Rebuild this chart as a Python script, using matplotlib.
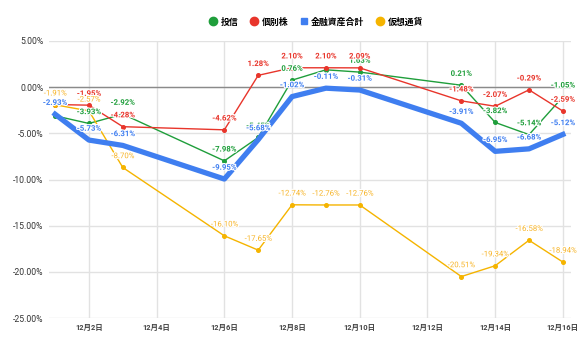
import matplotlib.pyplot as plt
import matplotlib.patheffects as pe
from matplotlib.lines import Line2D

plt.rcParams['font.family'] = ['Roboto', 'Noto Sans CJK JP', 'DejaVu Sans']

# 12月の取引日
days = [1, 2, 3, 6, 7, 8, 9, 10, 13, 14, 15, 16]

# 前月末比 (%)
toshin = [-3.10, -3.93, -2.92, -7.98, -5.45, 0.76, 1.88, 1.63, 0.21, -3.82, -5.14, -1.05]
kobetsu = [-1.88, -1.95, -4.28, -4.62, 1.28, 2.10, 2.10, 2.09, -1.48, -2.07, -0.29, -2.59]
goukei = [-2.93, -5.73, -6.31, -9.95, -5.68, -1.02, -0.11, -0.31, -3.91, -6.95, -6.68, -5.12]
kasou = [-1.91, -2.57, -8.70, -16.10, -17.65, -12.74, -12.76, -12.76, -20.51, -19.34, -16.58, -18.94]

# 重なって隠れるラベル
toshin_hide = [0, 6]
kobetsu_hide = [0]

tick_days = [2, 4, 6, 8, 10, 12, 14, 16]
tick_labels = ['12月%d日' % d for d in tick_days]
y_ticks = [5, 0, -5, -10, -15, -20, -25]

c_green = '#1f9e3b'
c_red = '#e8352b'
c_blue = '#3f7ef0'
c_yellow = '#f5b400'

fig = plt.figure(figsize=(5.86, 3.48), dpi=100)
ax = fig.add_axes([49/586, 1-318/348, 522/586, 277/348])

ax.set_xlim(0.82, 16.24)
ax.set_ylim(-25, 5)

for d in tick_days:
    ax.axvline(d, color='#e2e2e2', lw=1, zorder=0)
for y in y_ticks:
    ax.axhline(y, color='#e2e2e2', lw=1, zorder=0)
ax.axhline(0, color='#8a8a8a', lw=1, zorder=1)

series = [
    (toshin, c_green, c_green, 1.0, toshin_hide),
    (kobetsu, c_red, c_red, 1.0, kobetsu_hide),
    (goukei, c_blue, c_blue, 3.8, []),
    (kasou, c_yellow, '#f7b52a', 1.0, []),
]

halo = [pe.withStroke(linewidth=1.6, foreground='white')]
for i, (vals, col, tcol, lw, hide) in enumerate(series):
    ms = 0 if lw > 2 else 2.6
    ax.plot(days, vals, color=col, lw=lw, marker='o', ms=ms,
            solid_joinstyle='round', zorder=3 + (1 if lw > 2 else 0))
    for j, (d, v) in enumerate(zip(days, vals)):
        if j in hide:
            continue
        ax.annotate('%.2f%%' % v, (d, v), xytext=(0, 6), textcoords='offset points',
                    ha='center', va='bottom', fontsize=5.6, color=tcol,
                    fontweight='bold' if col != c_yellow else 'normal',
                    path_effects=halo, zorder=10 + i)

ax.set_xticks(tick_days)
ax.set_xticklabels(tick_labels, fontsize=5.4, fontweight='bold', color='#444444')
ax.set_yticks(y_ticks)
ax.set_yticklabels(['%.2f%%' % y for y in y_ticks], fontsize=6.2, color='#333333')
ax.tick_params(length=0, pad=4)
for s in ax.spines.values():
    s.set_visible(False)

handles = [
    Line2D([], [], ls='none', marker='o', ms=6, color=c_green),
    Line2D([], [], ls='none', marker='o', ms=6, color=c_red),
    Line2D([], [], ls='none', marker='s', ms=4.5, color=c_blue),
    Line2D([], [], ls='none', marker='o', ms=6, color=c_yellow),
]
names = ['投信', '個別株', '金融資産合計', '仮想通貨']
fig.legend(handles, names, loc='center', bbox_to_anchor=(316/586, 1-22/348), ncol=4,
           frameon=False, prop={'size': 6.4, 'weight': 'bold'}, handletextpad=0.3,
           columnspacing=1.3, handlelength=1.0)

fig.savefig('out.png', dpi=100)
